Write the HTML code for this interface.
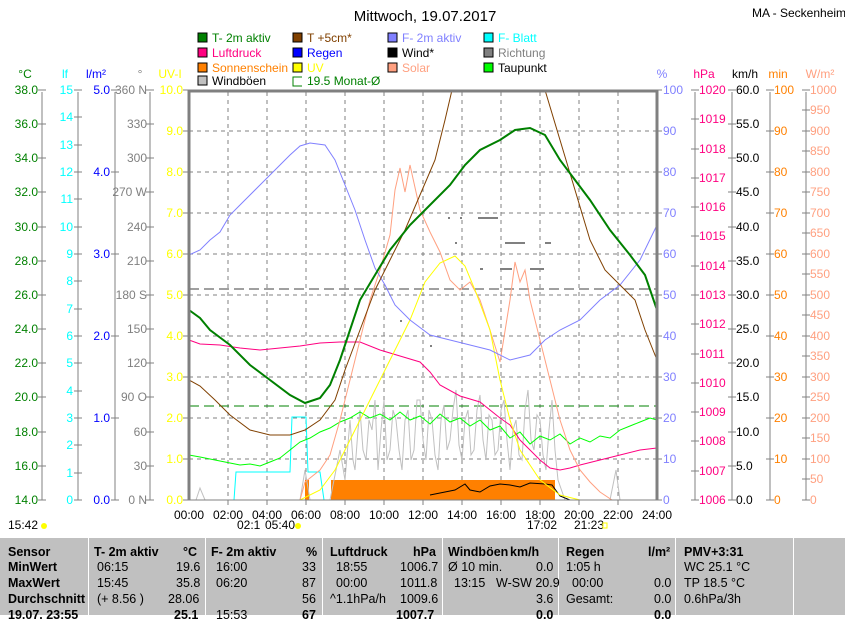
<!DOCTYPE html>
<html><head><meta charset="utf-8"><style>
body{margin:0;background:#fff;width:845px;height:615px;overflow:hidden;font-family:"Liberation Sans",sans-serif}
svg{position:absolute;left:0;top:0}
text{font-family:"Liberation Sans",sans-serif;font-size:12px}
.tb{position:absolute;left:0;top:538px;width:845px;height:77px;background:#c0c0c0;font-size:12.5px}
.c{position:absolute;top:0;height:77px;border-left:1px solid #fff}
.r{position:absolute;white-space:nowrap}
</style></head><body>
<svg width="845" height="615" xmlns="http://www.w3.org/2000/svg">
<text x="425" y="21" text-anchor="middle" style="font-size:15px">Mittwoch, 19.07.2017</text>
<text x="752" y="17" style="font-size:12px">MA - Seckenheim</text>
<g style="font-size:12px">
<rect x="198" y="33" width="9" height="9" fill="#008000" stroke="#000"/><text x="212" y="42" fill="#008000">T- 2m aktiv</text>
<rect x="198" y="48" width="9" height="9" fill="#ff0080" stroke="#000"/><text x="212" y="57" fill="#ff0080">Luftdruck</text>
<rect x="198" y="63" width="9" height="9" fill="#ff8000" stroke="#000"/><text x="212" y="72" fill="#ff8000">Sonnenschein</text>
<rect x="198" y="76" width="9" height="9" fill="#c0c0c0" stroke="#000"/><text x="212" y="85" fill="#000">Windböen</text>
<rect x="293" y="33" width="9" height="9" fill="#804000" stroke="#000"/><text x="307" y="42" fill="#804000">T +5cm*</text>
<rect x="293" y="48" width="9" height="9" fill="#0000ff" stroke="#000"/><text x="307" y="57" fill="#0000ff">Regen</text>
<rect x="293" y="63" width="9" height="9" fill="#ffff00" stroke="#000"/><text x="307" y="72" fill="#ffff00">UV</text>
<path d="M302 77H293V86H302" fill="none" stroke="#008000"/><text x="307" y="85" fill="#008000">19.5 Monat-Ø</text>
<rect x="388" y="33" width="9" height="9" fill="#8080ff" stroke="#000"/><text x="402" y="42" fill="#8080ff">F- 2m aktiv</text>
<rect x="388" y="48" width="9" height="9" fill="#000" stroke="#000"/><text x="402" y="57" fill="#000">Wind*</text>
<rect x="388" y="63" width="9" height="9" fill="#ffa080" stroke="#000"/><text x="402" y="72" fill="#ffa080">Solar</text>
<rect x="484" y="33" width="9" height="9" fill="#00ffff" stroke="#000"/><text x="498" y="42" fill="#00ffff">F- Blatt</text>
<rect x="484" y="48" width="9" height="9" fill="#808080" stroke="#000"/><text x="498" y="57" fill="#808080">Richtung</text>
<rect x="484" y="63" width="9" height="9" fill="#00ff00" stroke="#000"/><text x="498" y="72" fill="#000">Taupunkt</text>
</g>
<g text-anchor="middle">
<text x="25" y="78" fill="#008000">°C</text><text x="65" y="78" fill="#00ffff">lf</text><text x="96" y="78" fill="#0000ff">l/m²</text><text x="140" y="78" fill="#808080">°</text><text x="170" y="78" fill="#ffff00">UV-I</text>
<text x="662" y="78" fill="#8080ff">%</text><text x="704" y="78" fill="#ff0080">hPa</text><text x="745" y="78" fill="#000">km/h</text><text x="778" y="78" fill="#ff8000">min</text><text x="820" y="78" fill="#ffa080">W/m²</text>
</g>
<g stroke="#808080" fill="none">
<path d="M42 92V500M78 92V500M115 92V500M150 92V500M695 92V500M732 92V500M770 92V500M806 92V500"/>
</g>
<g stroke="#808080" stroke-dasharray="4,4">
<path d="M228 92V500M267 92V500M306 92V500M345 92V500M384 92V500M423 92V500M462 92V500M501 92V500M540 92V500M579 92V500M618 92V500"/>
<path d="M189 131H657M189 172H657M189 213H657M189 254H657M189 295H657M189 336H657M189 377H657M189 418H657M189 459H657"/>
</g>
<path d="M189 289H657" stroke="#404040" stroke-dasharray="10,5"/>
<path d="M189 406H657" stroke="#008000" stroke-dasharray="10,5"/>
<g text-anchor="end" fill="#008000">
<text x="38" y="94">38.0</text><text x="38" y="128">36.0</text><text x="38" y="162">34.0</text><text x="38" y="196">32.0</text><text x="38" y="231">30.0</text><text x="38" y="265">28.0</text><text x="38" y="299">26.0</text><text x="38" y="333">24.0</text><text x="38" y="367">22.0</text><text x="38" y="401">20.0</text><text x="38" y="436">18.0</text><text x="38" y="470">16.0</text><text x="38" y="504">14.0</text>
</g>
<g text-anchor="end" fill="#00ffff">
<text x="73" y="94">15</text><text x="73" y="121">14</text><text x="73" y="149">13</text><text x="73" y="176">12</text><text x="73" y="203">11</text><text x="73" y="231">10</text><text x="73" y="258">9</text><text x="73" y="285">8</text><text x="73" y="313">7</text><text x="73" y="340">6</text><text x="73" y="367">5</text><text x="73" y="395">4</text><text x="73" y="422">3</text><text x="73" y="449">2</text><text x="73" y="477">1</text><text x="73" y="504">0</text>
</g>
<g text-anchor="end" fill="#0000ff">
<text x="110" y="94">5.0</text><text x="110" y="176">4.0</text><text x="110" y="258">3.0</text><text x="110" y="340">2.0</text><text x="110" y="422">1.0</text><text x="110" y="504">0.0</text>
</g>
<g text-anchor="end" fill="#808080">
<text x="147" y="94">360 N</text><text x="147" y="128">330</text><text x="147" y="162">300</text><text x="147" y="196">270 W</text><text x="147" y="231">240</text><text x="147" y="265">210</text><text x="147" y="299">180 S</text><text x="147" y="333">150</text><text x="147" y="367">120</text><text x="147" y="401">90 O</text><text x="147" y="436">60</text><text x="147" y="470">30</text><text x="147" y="504">0 N</text>
</g>
<g text-anchor="end" fill="#ffff00">
<text x="183" y="94">10.0</text><text x="183" y="135">9.0</text><text x="183" y="176">8.0</text><text x="183" y="217">7.0</text><text x="183" y="258">6.0</text><text x="183" y="299">5.0</text><text x="183" y="340">4.0</text><text x="183" y="381">3.0</text><text x="183" y="422">2.0</text><text x="183" y="463">1.0</text><text x="183" y="504">0.0</text>
</g>
<g stroke="#808080">
<path d="M38 90H46M38 124H46M38 158H46M38 192H46M38 227H46M38 261H46M38 295H46M38 329H46M38 363H46M38 397H46M38 432H46M38 466H46M38 500H46"/>
<path d="M74 90H82M74 117H82M74 145H82M74 172H82M74 199H82M74 227H82M74 254H82M74 281H82M74 309H82M74 336H82M74 363H82M74 391H82M74 418H82M74 445H82M74 473H82M74 500H82"/>
<path d="M111 90H119M111 172H119M111 254H119M111 336H119M111 418H119M111 500H119"/>
<path d="M146 90H154M146 124H154M146 158H154M146 192H154M146 227H154M146 261H154M146 295H154M146 329H154M146 363H154M146 397H154M146 432H154M146 466H154M146 500H154"/>
<path d="M183 90H189M183 131H189M183 172H189M183 213H189M183 254H189M183 295H189M183 336H189M183 377H189M183 418H189M183 459H189M183 500H189"/>
<path d="M657 90H662M657 131H662M657 172H662M657 213H662M657 254H662M657 295H662M657 336H662M657 377H662M657 418H662M657 459H662M657 500H662"/>
<path d="M691 90H699M691 119H699M691 149H699M691 178H699M691 207H699M691 236H699M691 266H699M691 295H699M691 324H699M691 354H699M691 383H699M691 412H699M691 441H699M691 471H699M691 500H699"/>
<path d="M728 90H736M728 124H736M728 158H736M728 192H736M728 227H736M728 261H736M728 295H736M728 329H736M728 363H736M728 397H736M728 432H736M728 466H736M728 500H736"/>
<path d="M766 90H774M766 131H774M766 172H774M766 213H774M766 254H774M766 295H774M766 336H774M766 377H774M766 418H774M766 459H774M766 500H774"/>
<path d="M802 90H810M802 110H810M802 131H810M802 151H810M802 172H810M802 192H810M802 213H810M802 233H810M802 254H810M802 274H810M802 295H810M802 315H810M802 336H810M802 356H810M802 377H810M802 397H810M802 418H810M802 438H810M802 459H810M802 479H810M802 500H810"/>
</g>
<g fill="#8080ff">
<text x="663" y="94">100</text><text x="663" y="135">90</text><text x="663" y="176">80</text><text x="663" y="217">70</text><text x="663" y="258">60</text><text x="663" y="299">50</text><text x="663" y="340">40</text><text x="663" y="381">30</text><text x="663" y="422">20</text><text x="663" y="463">10</text><text x="663" y="504">0</text>
</g>
<g fill="#ff0080">
<text x="699" y="94">1020</text><text x="699" y="123">1019</text><text x="699" y="153">1018</text><text x="699" y="182">1017</text><text x="699" y="211">1016</text><text x="699" y="240">1015</text><text x="699" y="270">1014</text><text x="699" y="299">1013</text><text x="699" y="328">1012</text><text x="699" y="358">1011</text><text x="699" y="387">1010</text><text x="699" y="416">1009</text><text x="699" y="445">1008</text><text x="699" y="475">1007</text><text x="699" y="504">1006</text>
</g>
<g fill="#000">
<text x="736" y="94">60.0</text><text x="736" y="128">55.0</text><text x="736" y="162">50.0</text><text x="736" y="196">45.0</text><text x="736" y="231">40.0</text><text x="736" y="265">35.0</text><text x="736" y="299">30.0</text><text x="736" y="333">25.0</text><text x="736" y="367">20.0</text><text x="736" y="401">15.0</text><text x="736" y="436">10.0</text><text x="736" y="470">5.0</text><text x="736" y="504">0.0</text>
</g>
<g fill="#ff8000">
<text x="774" y="94">100</text><text x="774" y="135">90</text><text x="774" y="176">80</text><text x="774" y="217">70</text><text x="774" y="258">60</text><text x="774" y="299">50</text><text x="774" y="340">40</text><text x="774" y="381">30</text><text x="774" y="422">20</text><text x="774" y="463">10</text><text x="774" y="504">0</text>
</g>
<g fill="#ffa080">
<text x="810" y="94">1000</text><text x="810" y="114">950</text><text x="810" y="135">900</text><text x="810" y="155">850</text><text x="810" y="176">800</text><text x="810" y="196">750</text><text x="810" y="217">700</text><text x="810" y="237">650</text><text x="810" y="258">600</text><text x="810" y="278">550</text><text x="810" y="299">500</text><text x="810" y="319">450</text><text x="810" y="340">400</text><text x="810" y="360">350</text><text x="810" y="381">300</text><text x="810" y="401">250</text><text x="810" y="422">200</text><text x="810" y="442">150</text><text x="810" y="463">100</text><text x="810" y="483">50</text><text x="810" y="504">0</text>
</g>
<rect x="331" y="480" width="224" height="20" fill="#ff8000"/>
<rect x="305" y="480" width="4" height="20" fill="#ff8000"/>
<polyline fill="none" stroke="#c0c0c0" points="189,500 196,500 200,488 205,500 300,500 305,470 310,500 330,500 336,470 340,450 345,480 350,420 353,460 355,470 358,430 360,410 363,450 366,460 369,420 372,430 375,400 378,470 381,430 384,400 387,460 390,450 393,410 396,420 399,450 402,470 405,420 408,410 411,460 414,450 417,400 420,400 423,440 426,460 429,410 432,420 435,455 438,470 441,420 444,405 447,450 450,440 453,410 456,390 459,445 462,460 465,420 468,410 471,455 474,450 477,410 480,395 483,440 486,460 489,415 492,420 495,455 498,450 501,410 504,400 507,440 510,470 513,430 516,420 519,455 522,460 525,410 528,390 531,440 534,450 537,415 540,420 543,455 546,470 549,430 552,400 555,450 558,480 565,500 610,500 616,470 620,500 640,500"/>
<polyline fill="none" stroke="#000" points="430,495 445,492 455,490 465,484 470,490 480,492 490,486 500,484 510,485 520,487 530,483 545,484 552,485 560,496 570,500"/>
<polyline fill="none" stroke="#00ffff" points="189,500 234,500 236,472 290,472 292,417 306,417 308,472 320,472 324,500 657,500"/>
<polyline fill="none" stroke="#00ff00" points="189,455 200,457 210,459 220,461 230,463 240,465 250,464 260,466 270,462 280,458 290,450 300,442 310,438 320,432 330,428 340,422 350,418 360,412 370,418 380,414 390,420 400,412 410,420 420,416 430,424 440,414 450,422 460,418 470,426 480,420 490,430 500,426 510,438 520,432 530,444 540,436 550,440 560,434 570,444 580,438 590,442 600,436 610,438 620,430 630,426 640,422 650,418 657,420"/>
<polyline fill="none" stroke="#ff0080" points="189,340 200,344 220,345 240,348 260,350 280,348 300,346 320,343 340,342 360,342 380,350 400,356 420,362 430,372 440,385 460,396 480,402 500,418 510,425 520,440 530,450 540,460 550,468 560,470 570,468 580,465 600,460 620,455 640,450 657,448"/>
<polyline fill="none" stroke="#ffa080" points="189,500 300,500 305,482 320,470 330,455 340,420 350,380 360,340 370,300 380,270 390,235 395,190 400,168 405,192 410,165 420,210 430,232 440,252 450,280 460,290 470,282 480,300 490,330 500,362 510,300 515,262 520,282 525,270 530,300 540,340 550,380 560,420 570,450 580,470 590,482 600,492 612,500 657,500"/>
<polyline fill="none" stroke="#ffff00" points="189,500 300,500 320,490 335,470 350,440 370,400 390,360 410,320 425,282 440,263 455,256 465,266 475,290 490,330 500,380 510,420 520,450 540,480 560,495 580,500 657,500"/>
<polyline fill="none" stroke="#8080ff" points="189,255 200,250 210,240 220,232 230,215 240,205 250,195 260,185 270,175 280,165 290,155 300,146 310,143 325,145 335,160 345,185 355,210 365,240 375,268 385,285 395,305 410,320 430,335 450,340 470,345 490,350 510,360 530,355 545,340 560,330 580,320 600,300 620,285 640,260 657,225"/>
<polyline fill="none" stroke="#804000" points="189,380 200,386 215,400 230,415 250,430 270,435 290,435 305,430 320,420 335,400 345,370 360,330 375,290 390,260 405,230 420,195 435,160 445,120 452,90"/>
<polyline fill="none" stroke="#804000" points="545,90 560,140 575,190 590,240 605,270 620,285 635,300 645,330 657,360"/>
<polyline fill="none" stroke="#008000" stroke-width="2" points="189,310 200,318 210,330 230,345 250,365 270,380 290,395 305,403 320,398 330,385 340,360 350,330 360,300 375,275 390,250 410,225 430,205 450,185 465,165 480,150 500,140 515,130 530,128 545,135 560,160 575,180 590,200 610,230 630,255 645,275 657,310"/>
<g fill="#808080"><rect x="448" y="217" width="2" height="2"/><rect x="460" y="217" width="2" height="2"/><rect x="478" y="217" width="20" height="2"/><rect x="505" y="242" width="20" height="2"/><rect x="545" y="242" width="6" height="2"/><rect x="455" y="242" width="2" height="2"/><rect x="480" y="268" width="3" height="2"/><rect x="500" y="268" width="12" height="2"/><rect x="530" y="268" width="14" height="2"/><rect x="400" y="320" width="2" height="2"/><rect x="430" y="345" width="2" height="2"/></g>
<path d="M189 90V500M657 90V500M189 91H657" stroke="#808080" stroke-width="3" fill="none"/>
<path d="M189 500H657" stroke="#808080" stroke-width="1"/>
<g stroke="#808080"><path d="M228 500v5M267 500v5M306 500v5M345 500v5M384 500v5M423 500v5M462 500v5M501 500v5M540 500v5M579 500v5M618 500v5"/></g>
<g text-anchor="middle">
<text x="189" y="519">00:00</text><text x="228" y="519">02:00</text><text x="267" y="519">04:00</text><text x="306" y="519">06:00</text><text x="345" y="519">08:00</text><text x="384" y="519">10:00</text><text x="423" y="519">12:00</text><text x="462" y="519">14:00</text><text x="501" y="519">16:00</text><text x="540" y="519">18:00</text><text x="579" y="519">20:00</text><text x="618" y="519">22:00</text><text x="657" y="519">24:00</text>
</g>
<text x="8" y="529">15:42</text><circle cx="44" cy="526" r="3" fill="#ffff00"/>
<text x="237" y="529">02:1</text><text x="265" y="529">05:40</text><circle cx="298" cy="526" r="3" fill="#ffff00"/>
<text x="527" y="529">17:02</text><text x="574" y="529">21:23</text><rect x="603" y="523" width="4" height="5" fill="none" stroke="#ffff00"/>
</svg>
<div class="tb">
<div class="c" style="left:88px"></div><div class="c" style="left:205px"></div><div class="c" style="left:322px"></div><div class="c" style="left:442px"></div><div class="c" style="left:558px"></div><div class="c" style="left:675px"></div><div class="c" style="left:793px"></div>
<div class="r" style="left:8px;top:7px;font-weight:bold">Sensor</div>
<div class="r" style="left:8px;top:22px;font-weight:bold">MinWert</div>
<div class="r" style="left:8px;top:38px;font-weight:bold">MaxWert</div>
<div class="r" style="left:8px;top:54px;font-weight:bold">Durchschnitt</div>
<div class="r" style="left:8px;top:70px;font-weight:bold">19.07. 23:55</div>
<div class="r" style="left:94px;top:7px;font-weight:bold">T- 2m aktiv</div><div class="r" style="left:183px;top:7px;font-weight:bold">°C</div>
<div class="r" style="left:97px;top:22px">06:15</div><div class="r" style="left:176px;top:22px">19.6</div>
<div class="r" style="left:97px;top:38px">15:45</div><div class="r" style="left:176px;top:38px">35.8</div>
<div class="r" style="left:97px;top:54px">(+ 8.56 )</div><div class="r" style="left:168px;top:54px">28.06</div>
<div class="r" style="left:174px;top:70px;font-weight:bold">25.1</div>
<div class="r" style="left:211px;top:7px;font-weight:bold">F- 2m aktiv</div><div class="r" style="left:306px;top:7px;font-weight:bold">%</div>
<div class="r" style="left:216px;top:22px">16:00</div><div class="r" style="left:302px;top:22px">33</div>
<div class="r" style="left:216px;top:38px">06:20</div><div class="r" style="left:302px;top:38px">87</div>
<div class="r" style="left:302px;top:54px">56</div>
<div class="r" style="left:216px;top:70px">15:53</div><div class="r" style="left:302px;top:70px;font-weight:bold">67</div>
<div class="r" style="left:330px;top:7px;font-weight:bold">Luftdruck</div><div class="r" style="left:413px;top:7px;font-weight:bold">hPa</div>
<div class="r" style="left:336px;top:22px">18:55</div><div class="r" style="left:400px;top:22px">1006.7</div>
<div class="r" style="left:336px;top:38px">00:00</div><div class="r" style="left:400px;top:38px">1011.8</div>
<div class="r" style="left:330px;top:54px">^1.1hPa/h</div><div class="r" style="left:400px;top:54px">1009.6</div>
<div class="r" style="left:396px;top:70px;font-weight:bold">1007.7</div>
<div class="r" style="left:448px;top:7px;font-weight:bold">Windböen</div><div class="r" style="left:510px;top:7px;font-weight:bold">km/h</div>
<div class="r" style="left:448px;top:22px">Ø 10 min.</div><div class="r" style="left:536px;top:22px">0.0</div>
<div class="r" style="left:454px;top:38px">13:15</div><div class="r" style="left:496px;top:38px">W-SW 20.9</div>
<div class="r" style="left:536px;top:54px">3.6</div>
<div class="r" style="left:536px;top:70px;font-weight:bold">0.0</div>
<div class="r" style="left:566px;top:7px;font-weight:bold">Regen</div><div class="r" style="left:648px;top:7px;font-weight:bold">l/m²</div>
<div class="r" style="left:566px;top:22px">1:05 h</div>
<div class="r" style="left:572px;top:38px">00:00</div><div class="r" style="left:654px;top:38px">0.0</div>
<div class="r" style="left:566px;top:54px">Gesamt:</div><div class="r" style="left:654px;top:54px">0.0</div>
<div class="r" style="left:654px;top:70px;font-weight:bold">0.0</div>
<div class="r" style="left:684px;top:7px;font-weight:bold">PMV+3:31</div>
<div class="r" style="left:684px;top:22px">WC 25.1 °C</div>
<div class="r" style="left:684px;top:38px">TP 18.5 °C</div>
<div class="r" style="left:684px;top:54px">0.6hPa/3h</div>
</div>
</body></html>
